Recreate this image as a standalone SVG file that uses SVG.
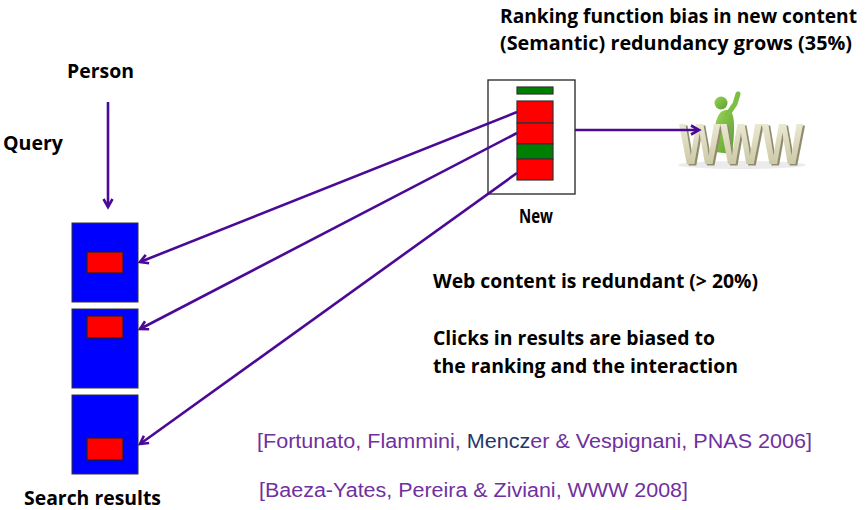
<svg xmlns="http://www.w3.org/2000/svg" width="866" height="510" viewBox="0 0 866 510">
  <defs>
    <style>
      .lbl { font-family: "Open Sans", "Liberation Sans", sans-serif; font-weight: bold; font-size: 19px; fill: #000; }
      .cite { font-family: "Liberation Sans", Arial, sans-serif; font-size: 20px; fill: #7030A0; }
      .navy { fill: #1F3864; }
      .result { fill: #0000FF; stroke: #333; stroke-width: 1; }
      .hit { fill: #FF0000; stroke: #222; stroke-width: 1.2; }
      .red { fill: #FF0000; stroke: #333; stroke-width: 1.2; }
      .green { fill: #008000; stroke: #333; stroke-width: 1.2; }
      .conn { stroke: #4B0A96; stroke-width: 2.6; fill: none; marker-end: url(#arrow); }
      .www { font-family: "Liberation Sans", Arial, sans-serif; font-weight: bold; font-size: 58px; }
    </style>
    <marker id="arrow" markerWidth="12" markerHeight="12" refX="9" refY="6" orient="auto" markerUnits="userSpaceOnUse">
      <path d="M1,1.5 L9,6 L1,10.5" fill="none" stroke="#4B0A96" stroke-width="2.6"/>
    </marker>
    <linearGradient id="wwwFill" x1="0" y1="0" x2="0" y2="1">
      <stop offset="0" stop-color="#F4F2E0"/>
      <stop offset="1" stop-color="#C4C09A"/>
    </linearGradient>
    <linearGradient id="figFill" x1="0" y1="0" x2="1" y2="1">
      <stop offset="0" stop-color="#9BD45A"/>
      <stop offset="1" stop-color="#5C9E2A"/>
    </linearGradient>
    <!-- solid offset copy gives the letters their 3D depth -->
    <filter id="depth" x="-10%" y="-10%" width="125%" height="130%">
      <feDropShadow dx="2" dy="1.5" stdDeviation="0.3" flood-color="#8F8C6E" flood-opacity="1"/>
    </filter>
  </defs>

  <rect width="866" height="510" fill="#fff"/>

  <!-- headline texts -->
  <g id="heading">
    <text class="lbl" x="500" y="23" textLength="357" lengthAdjust="spacingAndGlyphs">Ranking function bias in new content</text>
    <text class="lbl" x="500" y="50" textLength="352" lengthAdjust="spacingAndGlyphs">(Semantic) redundancy grows (35%)</text>
  </g>

  <g id="person">
    <text class="lbl" x="67" y="78" textLength="67" lengthAdjust="spacingAndGlyphs">Person</text>
  </g>
  <g id="query">
    <text class="lbl" x="3" y="150" textLength="60" lengthAdjust="spacingAndGlyphs">Query</text>
  </g>

  <!-- search result pages -->
  <g id="result1">
    <rect class="result" x="72" y="223" width="66" height="79"/>
    <rect class="hit" x="87" y="252" width="36" height="21"/>
  </g>
  <g id="result2">
    <rect class="result" x="72" y="309" width="66" height="79"/>
    <rect class="hit" x="87" y="316" width="36" height="22"/>
  </g>
  <g id="result3">
    <rect class="result" x="72" y="395" width="66" height="79"/>
    <rect class="hit" x="87" y="438" width="36" height="22"/>
  </g>
  <g id="search-results">
    <text class="lbl" x="24" y="505" textLength="137" lengthAdjust="spacingAndGlyphs">Search results</text>
  </g>

  <!-- new content stack -->
  <g id="new">
    <rect x="488" y="80" width="87" height="114" fill="#fff" stroke="#222" stroke-width="1.3"/>
    <rect class="green" x="517" y="87" width="36" height="7"/>
    <rect class="red" x="517" y="101" width="36" height="22"/>
    <rect class="red" x="517" y="123" width="36" height="21"/>
    <rect class="green" x="517" y="144" width="36" height="15"/>
    <rect class="red" x="517" y="159" width="36" height="21"/>
    <text class="lbl" x="536" y="223" text-anchor="middle" textLength="34" lengthAdjust="spacingAndGlyphs">New</text>
  </g>

  <!-- WWW clip art: figure behind 3D letters -->
  <g id="www">
    <ellipse cx="742" cy="165" rx="64" ry="4" fill="#000" opacity="0.08"/>
    <path d="M715,152 C713,132 715,118 721,112 C726,108 732,110 733,116 C735,124 734,140 732,154 Z" fill="url(#figFill)"/>
    <path d="M728,114 L735,104 L738,94" fill="none" stroke="#7DBE45" stroke-width="5" stroke-linecap="round"/>
    <circle cx="721" cy="103" r="6.5" fill="url(#figFill)"/>
    <text class="www" x="741" y="164" text-anchor="middle" fill="url(#wwwFill)" filter="url(#depth)" textLength="124" lengthAdjust="spacingAndGlyphs">WWW</text>
  </g>

  <!-- connectors -->
  <g id="connectors">
    <line class="conn" x1="108" y1="102" x2="108" y2="207"/>
    <line class="conn" x1="517" y1="112" x2="140" y2="262"/>
    <line class="conn" x1="517" y1="133" x2="140" y2="329"/>
    <line class="conn" x1="517" y1="173" x2="140" y2="444"/>
    <line class="conn" x1="575" y1="130" x2="699" y2="130"/>
  </g>

  <!-- findings -->
  <g id="findings">
    <text class="lbl" x="433" y="288" textLength="325" lengthAdjust="spacingAndGlyphs">Web content is redundant (&gt; 20%)</text>
    <text class="lbl" x="433" y="345" textLength="282" lengthAdjust="spacingAndGlyphs">Clicks in results are biased to</text>
    <text class="lbl" x="433" y="373" textLength="305" lengthAdjust="spacingAndGlyphs">the ranking and the interaction</text>
  </g>

  <!-- references -->
  <g id="references">
    <text class="cite" x="257" y="448" textLength="555" lengthAdjust="spacingAndGlyphs">[Fortunato, Flammini, <tspan class="navy">Mencz</tspan>er &amp; Vespignani, PNAS 2006]</text>
    <text class="cite" x="259" y="497" textLength="429" lengthAdjust="spacingAndGlyphs">[Baeza-Yates, Pereira &amp; Ziviani, WWW 2008]</text>
  </g>
</svg>
